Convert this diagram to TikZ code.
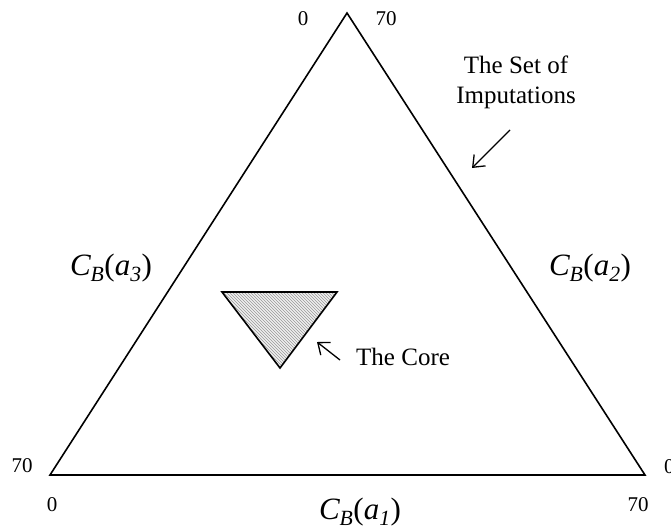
\documentclass[tikz,border=0pt]{standalone}
\usepackage{fontspec}
\setmainfont{Liberation Serif}
\usetikzlibrary{positioning,arrows.meta,patterns}

\newcommand{\cbase}[1]{\textit{C\textsubscript{B}}(\textit{a\textsubscript{#1}})}

\begin{document}
\begin{tikzpicture}[x=1pt, y=-1pt, every node/.style={inner sep=0pt, font=\fontsize{25}{30}\selectfont, align=center},
  lado/.style={line width=1.6pt, line join=miter},
  cifra/.style={font=\fontsize{21}{24}\selectfont},
  eje/.style={font=\fontsize{31}{34}\selectfont},
  flecha/.style={-{Straight Barb[length=10pt, width=16pt]}, line width=1.3pt}]
\useasboundingbox (0,0) rectangle (671,531);
% triangulo de imputaciones
\coordinate (top) at (347,13);
\coordinate (izq) at (50,475);
\coordinate (der) at (645,475);
\draw[lado] (top) -- (der) -- (izq) -- cycle;
% nucleo
\coordinate (n1) at (222,292);
\coordinate (n2) at (337,292);
\coordinate (n3) at (280,368);
\fill[gray!12] (n1) -- (n2) -- (n3) -- cycle;
\fill[pattern=north west lines, pattern color=gray!80] (n1) -- (n2) -- (n3) -- cycle;
\draw[lado] (n1) -- (n2) -- (n3) -- cycle;
% escalas
\node[cifra] (t0) at (303,19) {0};
\node[cifra] (t70) at (386,19) {70};
\node[cifra] (i70) at (22,466) {70};
\node[cifra] (i0) at (52,505) {0};
\node[cifra] (d70) at (638,505) {70};
\node[cifra, anchor=west] (d0) at (664,467) {0};
% ejes
\node[eje] (a3) at (111,268) {\cbase{3}};
\node[eje] (a2) at (590,268) {\cbase{2}};
\node[eje] (a1) at (360,512) {\cbase{1}};
% etiquetas
\node (imp) at (516,82) {The Set of\\Imputations};
\node[anchor=west] (core) at (356,357) {The Core};
\coordinate (ic) at (510,130);
\coordinate (ip) at (472,168);
\coordinate (cc) at (340,360);
\coordinate (cp) at (317,342);
\draw[flecha] (ic) -- (ip);
\draw[flecha] (cc) -- (cp);
\end{tikzpicture}
\end{document}
